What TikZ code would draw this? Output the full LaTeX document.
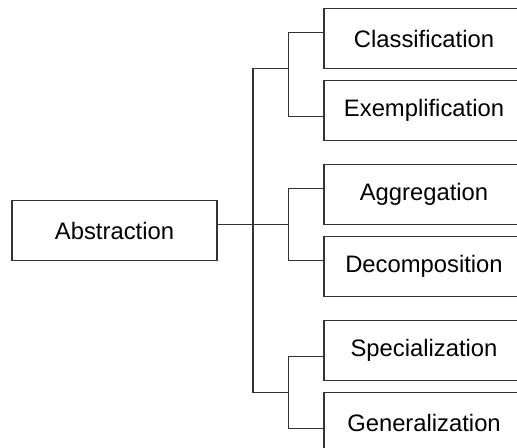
\documentclass[tikz,border=0pt]{standalone}
\usepackage{fontspec}
\setmainfont{Liberation Sans}
\usepackage{tikz}
\usetikzlibrary{positioning,calc}

\begin{document}
\begin{tikzpicture}[
    node distance=6pt,
    box/.style={draw=black!80, minimum width=100pt, minimum height=30pt, outer sep=0pt,
                align=center, font=\fontsize{11.9}{14}\selectfont, line width=0.7pt},
    link/.style={draw=black!80, line width=0.6pt},
]

% ── Frame ──
\useasboundingbox (0,0) rectangle (258.5pt,-223.5pt);
\clip (0,0) rectangle (258.5pt,-223.5pt);

% ── Right column ──
\node[box, anchor=north west] (class) at (162pt,-4.35pt) {Classification};
\node[box, below=of class] (exemp) {Exemplification};
\node[box, below=12pt of exemp] (aggr) {Aggregation};
\node[box, below=of aggr] (decomp) {Decomposition};
\node[box, below=12pt of decomp] (spec) {Specialization};
\node[box, below=of spec] (gen) {Generalization};

% ── Root ──
\node[box, minimum width=102.5pt, anchor=east, xshift=-53.5pt] (abs)
    at ($(aggr.west)!0.5!(decomp.west)$) {Abstraction};

% ── Connector columns ──
\coordinate (tx) at ([xshift=-35.5pt]class.west);
\coordinate (bx) at ([xshift=-17.65pt]class.west);

% ── Brackets ──
\draw[link] ([yshift=3pt]class.west) -- ([yshift=3pt]class.west -| bx) |- ([yshift=-3pt]exemp.west);
\draw[link] ([yshift=3pt]aggr.west) -- ([yshift=3pt]aggr.west -| bx) |- ([yshift=3pt]decomp.west);
\draw[link] ([yshift=-3pt]spec.west) -- ([yshift=-3pt]spec.west -| bx) |- ([yshift=-3pt]gen.west);

% ── Trunk ──
\draw[link] (bx |- class.south) -- (tx |- class.south) -- (tx |- gen.north) -- (bx |- gen.north);
\draw[link] (abs.east |- aggr.south) -- (bx |- aggr.south);

\end{tikzpicture}
\end{document}
